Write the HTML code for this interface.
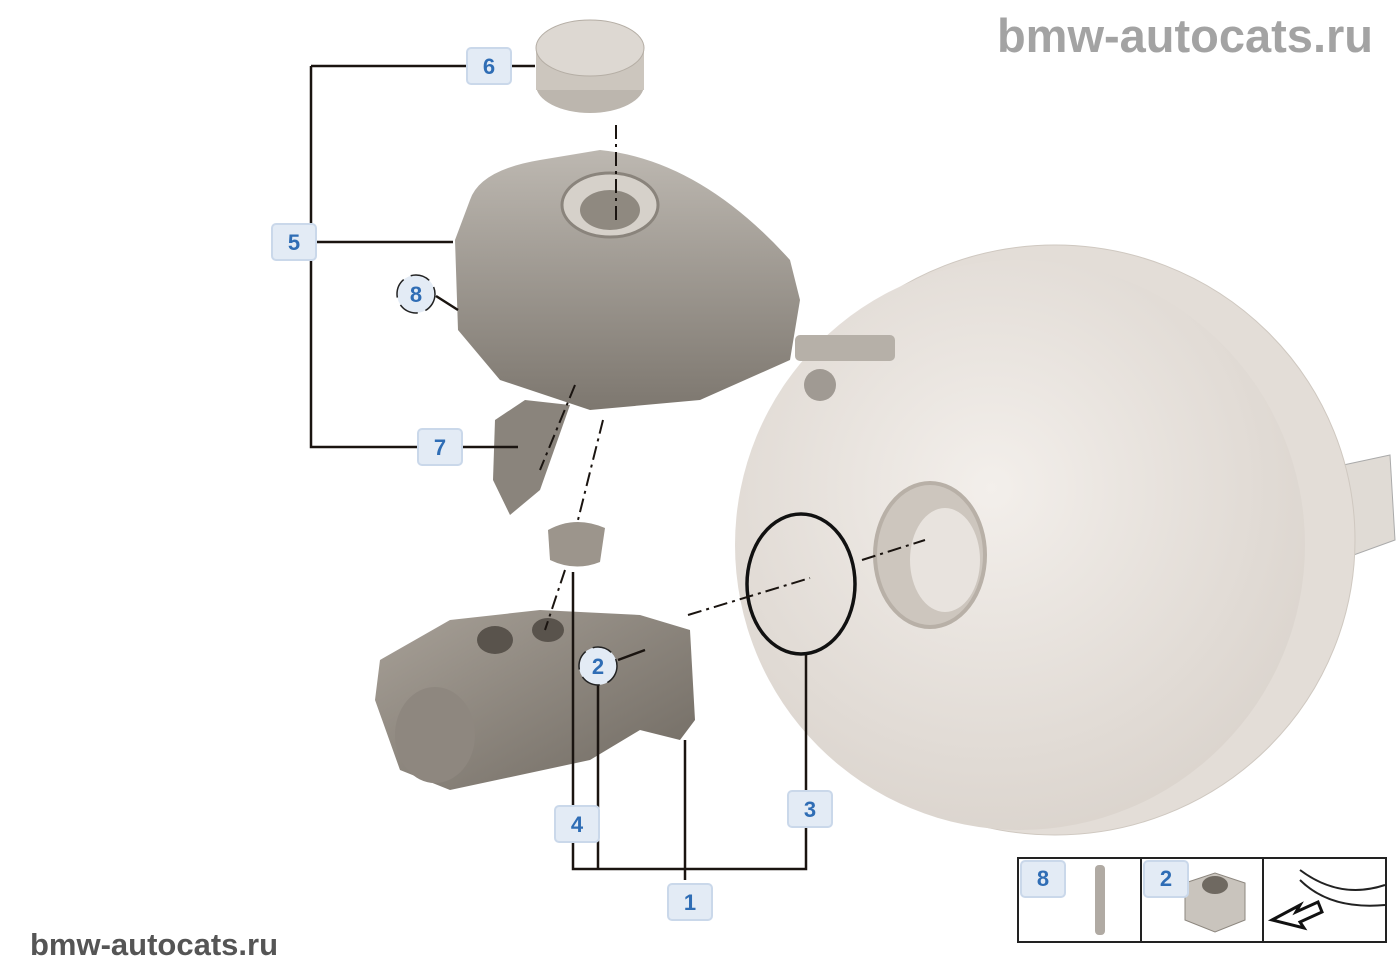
<!DOCTYPE html>
<html><head><meta charset="utf-8"><style>
html,body{margin:0;padding:0;background:#fff;width:1400px;height:980px;overflow:hidden}
svg{display:block}
.lb rect{fill:#e3ebf5;stroke:#cad8ea;stroke-width:2}
.lb text{fill:#2f6db5;font:bold 22px "Liberation Sans",sans-serif;text-anchor:middle}
.ln{stroke:#1a1410;stroke-width:2.5;fill:none}
.dl{stroke:#1a1410;stroke-width:2;fill:none;stroke-dasharray:14 5 3 5}
</style></head><body>
<svg width="1400" height="980" viewBox="0 0 1400 980">
<defs>
<radialGradient id="bg" cx="0.45" cy="0.4" r="0.7"><stop offset="0" stop-color="#f3efeb"/><stop offset="1" stop-color="#d8d1ca"/></radialGradient>
<linearGradient id="gr" x1="0" y1="0" x2="0" y2="1"><stop offset="0" stop-color="#bdb8b1"/><stop offset="1" stop-color="#7d776f"/></linearGradient>
<linearGradient id="mc" x1="0" y1="0" x2="1" y2="1"><stop offset="0" stop-color="#a8a198"/><stop offset="1" stop-color="#6f6961"/></linearGradient>
</defs>
<text x="1373" y="52" text-anchor="end" font-family="Liberation Sans,sans-serif" font-weight="bold" font-size="47" fill="#a3a3a3">bmw-autocats.ru</text>
<text x="30" y="955" font-family="Liberation Sans,sans-serif" font-weight="bold" font-size="31" fill="#555">bmw-autocats.ru</text>
<!-- booster -->
<path d="M1320 470 L1390 455 L1395 540 L1340 560 Z" fill="#e0dbd5" stroke="#aaa" />
<ellipse cx="1055" cy="540" rx="300" ry="295" fill="#e3ddd7" stroke="#cfc8c0"/>
<ellipse cx="1020" cy="545" rx="285" ry="285" fill="url(#bg)"/>
<ellipse cx="930" cy="555" rx="55" ry="72" fill="#cdc6be" stroke="#b8b0a7" stroke-width="4"/>
<ellipse cx="945" cy="560" rx="35" ry="52" fill="#e8e3de"/>
<circle cx="820" cy="385" r="16" fill="#a09a93"/>
<rect x="795" y="335" width="100" height="26" fill="#b6b0a8" rx="5"/>
<!-- cap -->
<ellipse cx="590" cy="85" rx="54" ry="28" fill="#bcb6ae"/>
<rect x="536" y="50" width="108" height="40" fill="#ccc6be"/>
<ellipse cx="590" cy="48" rx="54" ry="28" fill="#ddd8d2" stroke="#b5aea5"/>
<!-- reservoir -->
<path d="M470 200 Q480 170 540 160 L600 150 Q700 160 790 260 L800 300 L790 360 L700 400 L590 410 L500 380 L458 330 L455 240 Z" fill="url(#gr)"/>
<ellipse cx="610" cy="205" rx="48" ry="32" fill="#d6d1ca" stroke="#8a847c" stroke-width="3"/>
<ellipse cx="610" cy="210" rx="30" ry="20" fill="#8f8980"/>
<path d="M495 420 L525 400 L570 405 L540 490 L510 515 L493 480 Z" fill="#8a847c"/>
<path d="M548 530 Q575 515 605 528 L600 562 Q575 572 550 560 Z" fill="#9c958c"/>
<!-- master cylinder -->
<path d="M380 660 L450 620 L540 610 L640 615 L690 630 L695 720 L680 740 L640 730 L590 760 L450 790 L400 770 L375 700 Z" fill="url(#mc)"/>
<ellipse cx="435" cy="735" rx="40" ry="48" fill="#8e877f"/>
<ellipse cx="495" cy="640" rx="18" ry="14" fill="#59534c"/>
<ellipse cx="548" cy="630" rx="16" ry="12" fill="#59534c"/>
<!-- o-ring -->
<ellipse cx="801" cy="584" rx="54" ry="70" fill="none" stroke="#111" stroke-width="3.5"/>
<!-- dashed lines -->
<path class="dl" d="M616 125 V220"/>
<path class="dl" d="M575 385 L540 470"/>
<path class="dl" d="M603 420 L578 520"/>
<path class="dl" d="M565 570 L545 630"/>
<path class="dl" d="M688 615 L810 578"/>
<path class="dl" d="M862 560 L925 540"/>
<!-- leader lines -->
<path class="ln" d="M311 66 H467 M311 66 V447 H418 M462 447 H518 M511 66 H535 M294 242 H453 M436 296 L458 310"/>
<path class="ln" d="M618 660 L645 650"/>
<path class="ln" d="M573 572 V806 M573 842 V869 H806 V827 M806 791 V655 M598 683 V869 M685 740 V880"/>
<!-- bottom box -->
<rect x="1018" y="858" width="368" height="84" fill="#fff" stroke="#222" stroke-width="2"/>
<path d="M1141 858 V942 M1263 858 V942" stroke="#222" stroke-width="2"/>
<rect x="1095" y="865" width="10" height="70" rx="4" fill="#b0aaa3"/>
<path d="M1185 883 L1215 873 L1245 883 L1245 920 L1215 932 L1185 920 Z" fill="#c9c4bd" stroke="#8d877f"/>
<ellipse cx="1215" cy="885" rx="13" ry="9" fill="#6f6961"/>
<path d="M1300 870 Q1340 900 1385 885 M1300 880 Q1330 910 1385 905" stroke="#222" stroke-width="2" fill="none"/>
<path d="M1272 920 L1300 905 L1296 912 L1318 902 L1322 912 L1300 922 L1304 928 Z" fill="#fff" stroke="#111" stroke-width="3"/>
<!-- labels -->
<g class="lb">
<rect x="467" y="48" width="44" height="36" rx="4"/><text x="489" y="74">6</text>
<rect x="272" y="224" width="44" height="36" rx="4"/><text x="294" y="250">5</text>
<rect x="418" y="429" width="44" height="36" rx="4"/><text x="440" y="455">7</text>
<rect x="555" y="806" width="44" height="36" rx="4"/><text x="577" y="832">4</text>
<rect x="788" y="791" width="44" height="36" rx="4"/><text x="810" y="817">3</text>
<rect x="668" y="884" width="44" height="36" rx="4"/><text x="690" y="910">1</text>
<rect x="1021" y="861" width="44" height="36" rx="4"/><text x="1043" y="886">8</text>
<rect x="1144" y="861" width="44" height="36" rx="4"/><text x="1166" y="886">2</text>
</g>
<circle cx="416" cy="294" r="19" fill="#e3ebf5" stroke="#222" stroke-width="1.5" stroke-dasharray="20 8"/>
<text x="416" y="302" text-anchor="middle" font-family="Liberation Sans,sans-serif" font-weight="bold" font-size="22" fill="#2f6db5">8</text>
<circle cx="598" cy="666" r="19" fill="#e3ebf5" stroke="#222" stroke-width="1.5" stroke-dasharray="20 8"/>
<text x="598" y="674" text-anchor="middle" font-family="Liberation Sans,sans-serif" font-weight="bold" font-size="22" fill="#2f6db5">2</text>
</svg>
</body></html>
